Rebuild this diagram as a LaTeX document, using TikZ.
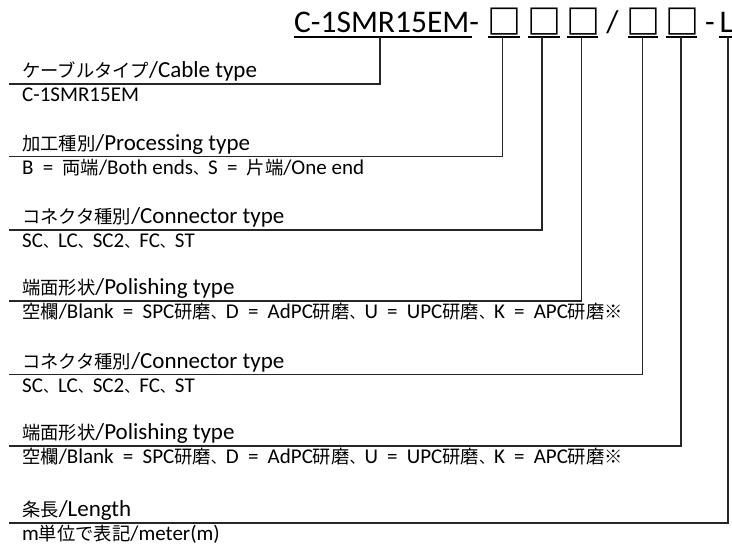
\documentclass[tikz,border=0pt]{standalone}
\usepackage{fontspec}
\setmainfont{Carlito}
\newfontfamily\cjkfont{Noto Sans CJK JP}
\newcommand\J[1]{{\fontsize{18.3}{20}\selectfont\cjkfont #1}}
\newcommand\tc{{\fontsize{15}{18}\selectfont\cjkfont 、}}
\newcommand\es{\hspace{9.2pt}}
\tikzset{
  lbl/.style={anchor=base west, inner sep=0pt, font=\fontsize{23}{26}\selectfont},
  val/.style={anchor=base west, inner sep=0pt, font=\fontsize{21}{24}\selectfont},
  ttl/.style={inner sep=0pt, font=\fontsize{31.5}{34}\selectfont},
  sq/.style={inner sep=0pt, anchor=center, font=\fontsize{34}{36}\selectfont\cjkfont\bfseries},
  conn/.style={draw=black!85, line width=1.3pt},
  ul/.style={draw=black, line width=2pt}
}
\begin{document}
\begin{tikzpicture}[x=1pt,y=-1pt]
\fill[white] (0,0) rectangle (732,545);
\useasboundingbox (0,0) rectangle (732,545);
% title
\node[ttl, anchor=base west] (title) at (294,33) {C-1SMR15EM-};
\node[sq] (b1) at (504.5,21.7) {□};
\node[sq] (b2) at (544.5,21.7) {□};
\node[sq] (b3) at (583.5,21.7) {□};
\node[ttl, anchor=base] (slash) at (612.5,33) {/};
\node[sq] (b4) at (643,21.7) {□};
\node[sq] (b5) at (682,21.7) {□};
\node[ttl, anchor=base] (dash) at (710,33) {-};
\node[ttl, anchor=base west] (ell) at (719.5,33) {L};
% underlines
\draw[ul] (294,37) -- (472,37);
\draw[ul] (488,37) -- (520,37);
\draw[ul] (528,37) -- (560,37);
\draw[ul] (567,37) -- (598,37);
\draw[ul] (628,37) -- (658,37);
\draw[ul] (666,37) -- (697,37);
\draw[ul] (719,37) -- (740,37);
% connector tops
\coordinate (t1) at (380,37);
\coordinate (t2) at (502.7,37);
\coordinate (t3) at (542,37);
\coordinate (t4) at (581.7,37);
\coordinate (t5) at (642.3,37);
\coordinate (t6) at (681,37);
\coordinate (t7) at (728,37);
% line starts
\coordinate (s1) at (9,84);
\coordinate (s2) at (9,156.5);
\coordinate (s3) at (9,230);
\coordinate (s4) at (9,301);
\coordinate (s5) at (9,374.3);
\coordinate (s6) at (9,446);
\coordinate (s7) at (9,523);
\draw[conn] (s1) -| (t1);
\draw[conn] (s2) -| (t2);
\draw[conn] (s3) -| (t3);
\draw[conn] (s4) -| (t4);
\draw[conn] (s5) -| (t5);
\draw[conn] (s6) -| (t6);
\draw[conn] (s7) -| (t7);
% labels
\node[lbl] (l1) at (22,78) {\J{ケーブルタイプ}/Cable type};
\node[val] (v1) at (22,101.7) {C-1SMR15EM};
\node[lbl] (l2) at (22,150.5) {\J{加工種別}/Processing type};
\node[val] (v2) at (22,174.3) {B\es=\es\J{両端}/Both ends\tc S\es=\es\J{片端}/One end};
\node[lbl] (l3) at (22,224) {\J{コネクタ種別}/Connector type};
\node[val] (v3) at (22,248) {SC\tc LC\tc SC2\tc FC\tc ST};
\node[lbl] (l4) at (22,295) {\J{端面形状}/Polishing type};
\node[val] (v4) at (22,319) {\J{空欄}/Blank\es=\es SPC\J{研磨}\tc D\es=\es AdPC\J{研磨}\tc U\es=\es UPC\J{研磨}\tc K\es=\es APC\J{研磨※}};
\node[lbl] (l5) at (22,368.3) {\J{コネクタ種別}/Connector type};
\node[val] (v5) at (22,392.3) {SC\tc LC\tc SC2\tc FC\tc ST};
\node[lbl] (l6) at (22,440) {\J{端面形状}/Polishing type};
\node[val] (v6) at (22,464) {\J{空欄}/Blank\es=\es SPC\J{研磨}\tc D\es=\es AdPC\J{研磨}\tc U\es=\es UPC\J{研磨}\tc K\es=\es APC\J{研磨※}};
\node[lbl] (l7) at (22,517) {\J{条長}/Length};
\node[val] (v7) at (22,540.5) {m\J{単位で表記}/meter(m)};
\end{tikzpicture}
\end{document}
